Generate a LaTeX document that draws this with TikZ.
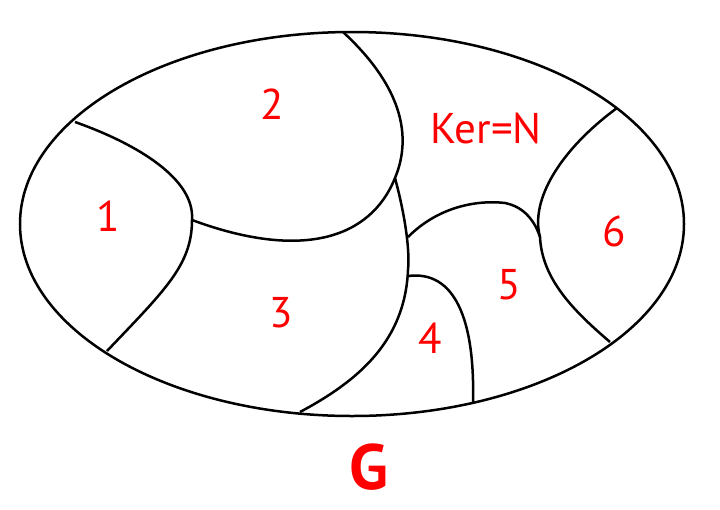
\documentclass[tikz,border=0pt]{standalone}
\usepackage{fontspec}
\setmainfont{PT Sans}
\begin{document}
\begin{tikzpicture}[x=1pt,y=-1pt,
  bound/.style={line width=2.5pt,black},
  lbl/.style={text=red,font=\fontsize{43}{43}\selectfont,inner sep=0pt,anchor=center},
  biglbl/.style={text=red,font=\fontsize{64}{64}\selectfont\bfseries,inner sep=0pt,anchor=center}]
\useasboundingbox (0,0) rectangle (720,509);
\draw[bound] (352,224) ellipse [x radius=332, y radius=192];
% boundary points
\coordinate (t2) at (343,32);
\coordinate (j23) at (395,178);
\coordinate (j1) at (192,220);
\coordinate (e1a) at (75,122);
\coordinate (e1b) at (107,351);
\coordinate (e3) at (300,412);
\coordinate (j5a) at (408,237);
\coordinate (j4) at (408,276);
\coordinate (e4) at (473,402);
\coordinate (e6a) at (617,108);
\coordinate (e6b) at (610,342);
\coordinate (j6) at (540,237);
% region 2 boundary
\draw[bound] (t2) .. controls (395,80) and (415,130) .. (j23)
  .. controls (370,240) and (300,260) .. (j1);
% region 1 boundary
\draw[bound] (e1a) .. controls (140,145) and (195,180) .. (j1)
  .. controls (192,265) and (165,290) .. (e1b);
% region 3 right boundary
\draw[bound] (j23) .. controls (405,215) and (410,250) .. (408,270)
  .. controls (405,340) and (360,380) .. (e3);
% curve to region 6
\draw[bound] (j5a) .. controls (440,205) and (480,200) .. (505,203)
  .. controls (525,207) and (535,222) .. (j6);
% region 4 boundary
\draw[bound] (j4) .. controls (455,270) and (475,320) .. (e4);
% region 6 boundary
\draw[bound] (e6a) .. controls (560,150) and (530,200) .. (j6)
  .. controls (542,280) and (575,312) .. (e6b);
% labels
\node[lbl] (l1) at (108,216) {1};
\node[lbl] (l2) at (272,104) {2};
\node[lbl] (lk) at (486,128) {Ker=N};
\node[lbl] (l6) at (614,231) {6};
\node[lbl] (l5) at (509,285) {5};
\node[lbl] (l3) at (281,313) {3};
\node[lbl] (l4) at (430,338) {4};
\node[biglbl] (lg) at (369,467) {G};
\end{tikzpicture}
\end{document}
